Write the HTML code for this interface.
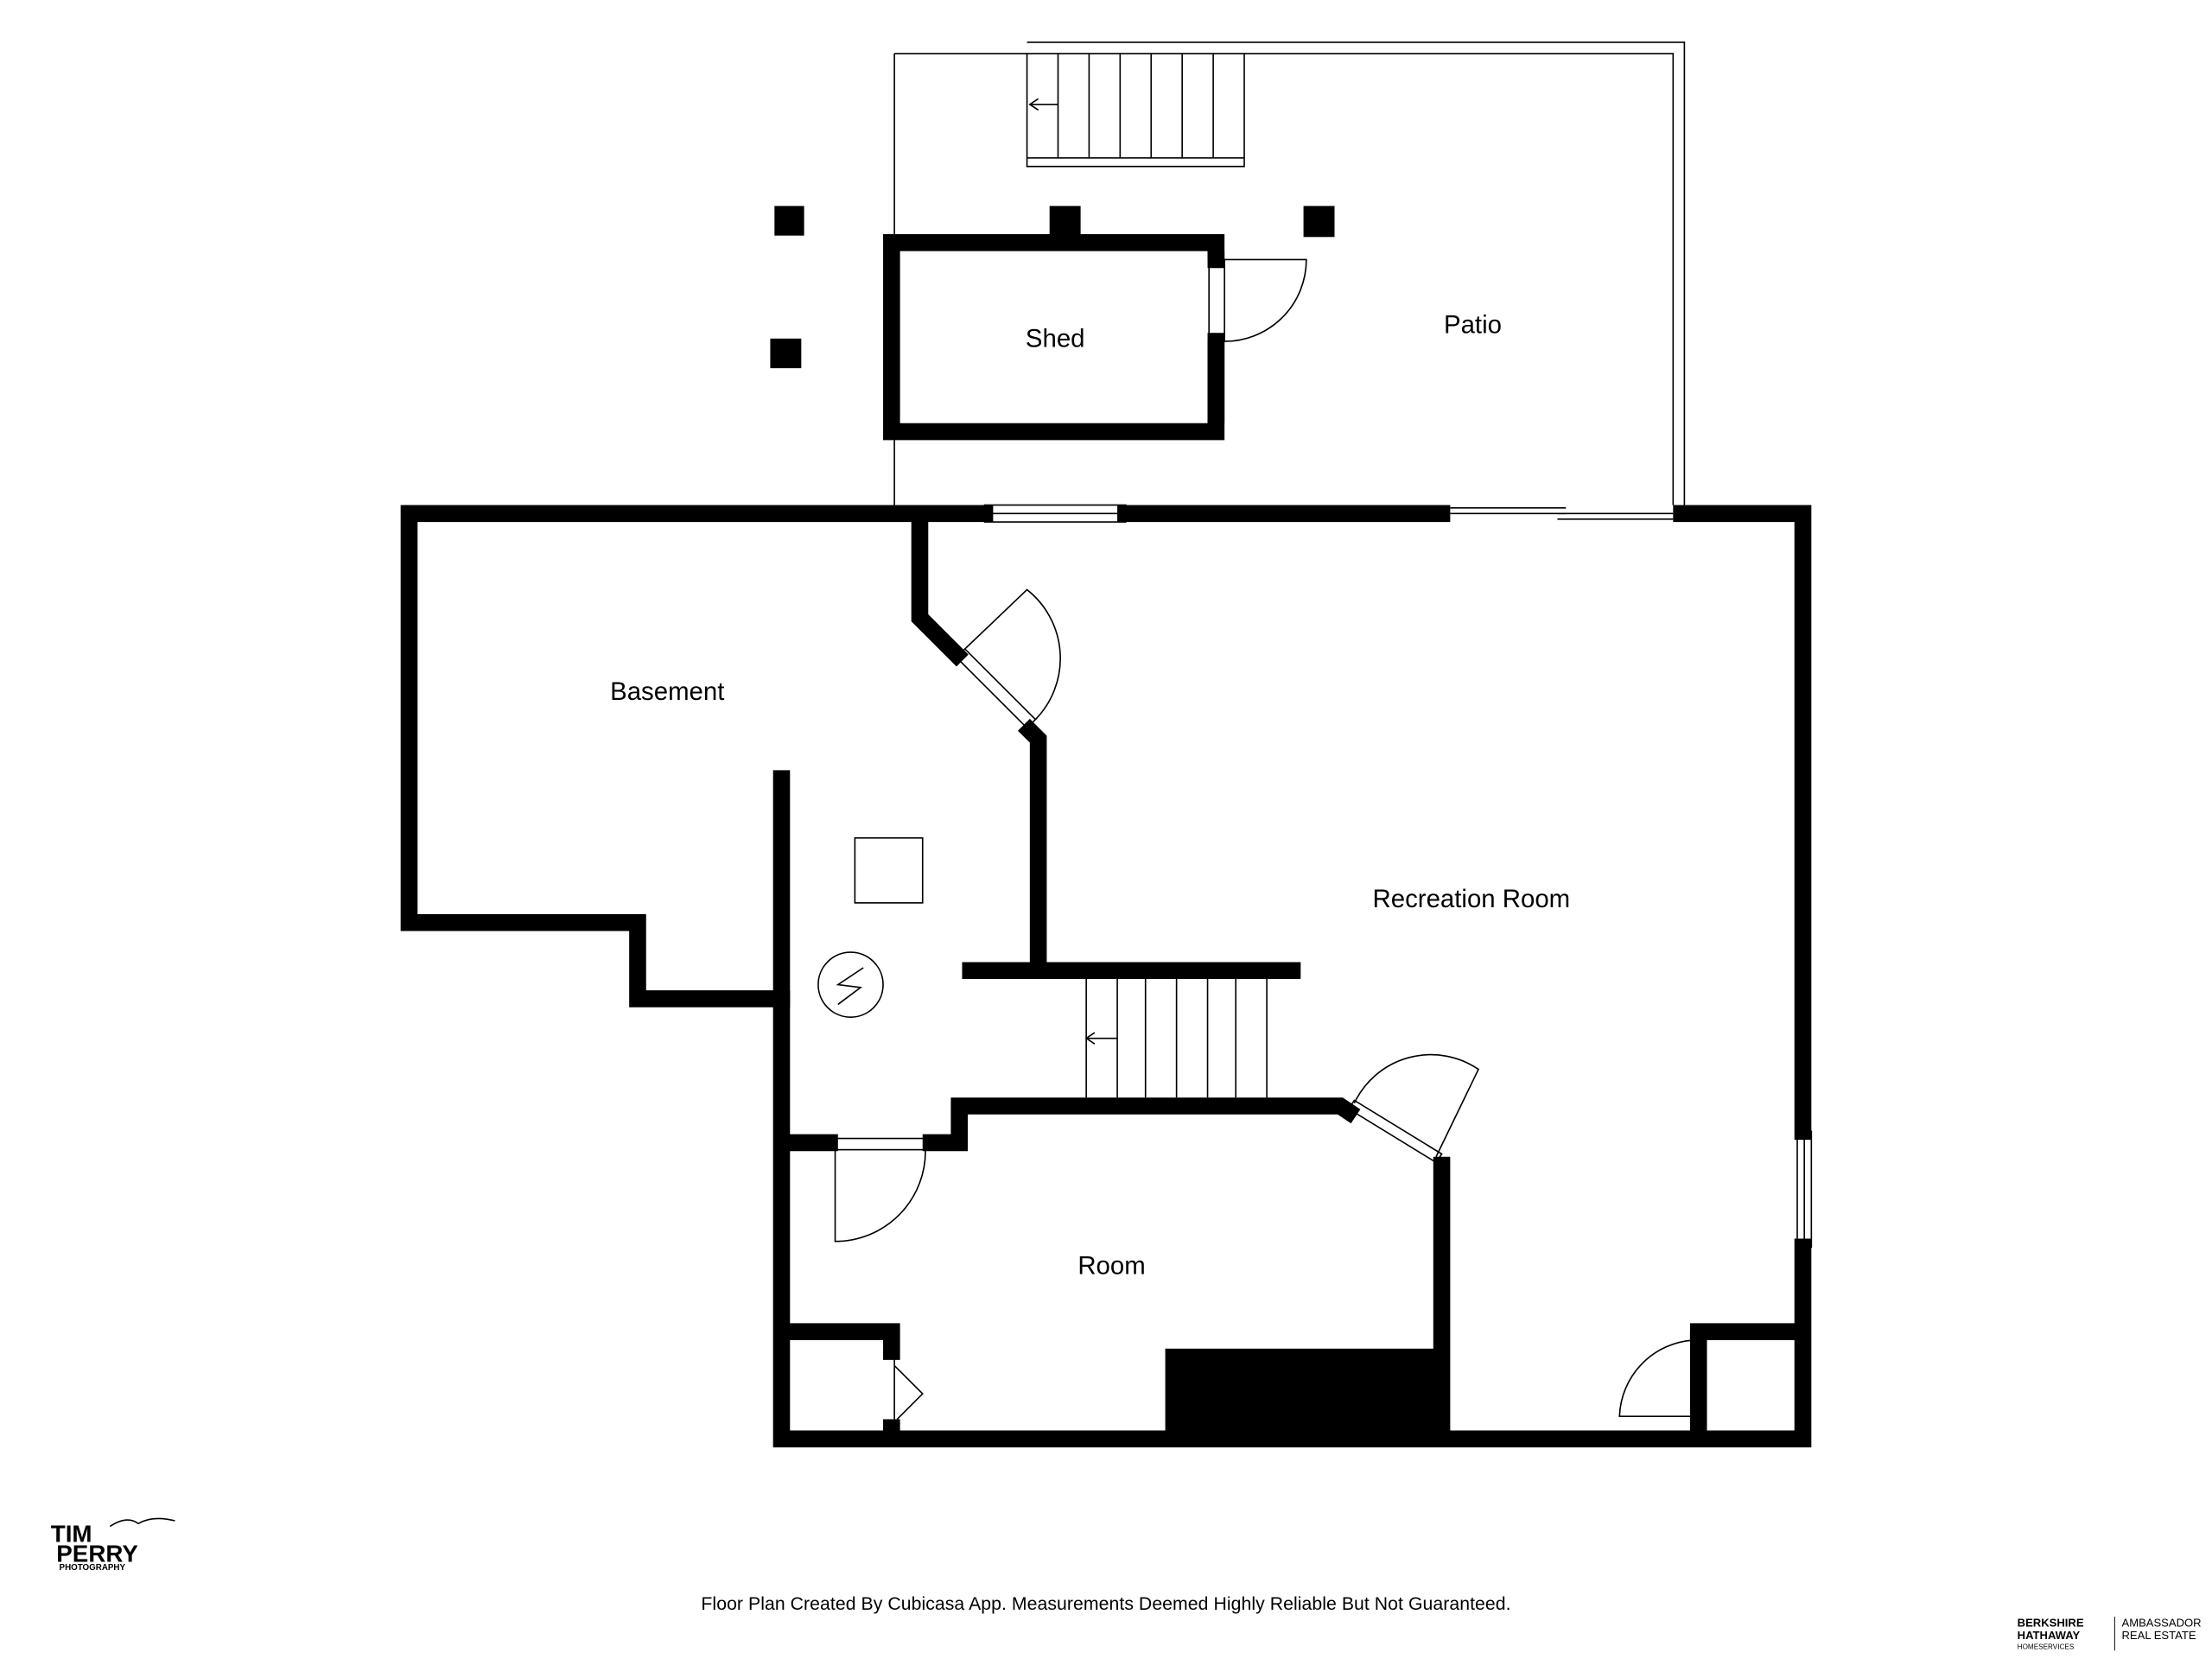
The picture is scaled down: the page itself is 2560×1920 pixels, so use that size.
<!DOCTYPE html>
<html><head><meta charset="utf-8"><style>
html,body{margin:0;padding:0;background:#fff;}
svg{display:block;}
text{font-family:"Liberation Sans","DejaVu Sans",sans-serif;}
</style></head><body>
<svg width="2560" height="1920" viewBox="0 0 1568 1176" xmlns="http://www.w3.org/2000/svg">
<rect width="1568" height="1176" fill="#fff"/>
<g fill="none" stroke="#000" stroke-width="1">
<line x1="634" y1="38" x2="634" y2="358"/>
<line x1="634" y1="38" x2="728" y2="38"/>
<polyline points="728,30 1194,30 1194,358"/>
<polyline points="882,38 1186,38 1186,358"/>
<rect x="728" y="38" width="154" height="80"/>
<line x1="728" y1="112" x2="882" y2="112"/>
<line x1="750" y1="38" x2="750" y2="112"/><line x1="772" y1="38" x2="772" y2="112"/>
<line x1="794" y1="38" x2="794" y2="112"/><line x1="816" y1="38" x2="816" y2="112"/>
<line x1="838" y1="38" x2="838" y2="112"/><line x1="860" y1="38" x2="860" y2="112"/>
<polyline points="736,70 730,74 736,78"/><line x1="730" y1="74" x2="750" y2="74"/>
<line x1="770" y1="694" x2="770" y2="778"/><line x1="792" y1="694" x2="792" y2="778"/>
<line x1="812" y1="694" x2="812" y2="778"/><line x1="834" y1="694" x2="834" y2="778"/>
<line x1="856" y1="694" x2="856" y2="778"/><line x1="876" y1="694" x2="876" y2="778"/>
<line x1="898" y1="694" x2="898" y2="778"/>
<polyline points="776,732 770,736 776,740"/><line x1="770" y1="736" x2="792" y2="736"/>
<rect x="698" y="358" width="100" height="12"/><line x1="698" y1="364" x2="798" y2="364"/>
<line x1="1028" y1="360" x2="1110" y2="360"/><line x1="1028" y1="364" x2="1110" y2="364"/>
<line x1="1104" y1="364" x2="1186" y2="364"/><line x1="1104" y1="368" x2="1186" y2="368"/>
<rect x="1274" y="802" width="10" height="82"/><line x1="1279" y1="802" x2="1279" y2="884"/>
<rect x="857" y="184" width="11" height="58"/>
<path d="M868,184 L926,184 A58,58 0 0 1 868,242"/>
<polygon points="678,466 684,460 734,510 728,516"/>
<path d="M684,460 L728,418 A62,62 0 0 1 734,510"/>
<rect x="592" y="807" width="64" height="8"/>
<path d="M592,815 L592,880 A64,64 0 0 0 656,815"/>
<polygon points="956,786 960,780 1022,818 1018,824"/>
<path d="M960,782 A60,60 0 0 1 1048,758 L1018,820"/>
<path d="M634,960 L634,1010 M634,968 L654,988 L636,1006"/>
<rect x="1200" y="950" width="8" height="58"/>
<path d="M1200,950 A56,56 0 0 0 1148,1004 L1200,1004"/>
<rect x="606" y="594" width="48" height="46"/>
<circle cx="603" cy="698" r="23"/>
<polyline points="612,686 594,698 610,700 594,712"/>
</g>
<g fill="none" stroke="#000" stroke-width="12" stroke-linejoin="miter" stroke-linecap="square">
<polyline points="862,184 862,172 632,172 632,306 862,306 862,242"/>
<polyline points="698,364 290,364 290,654 452,654 452,708 554,708"/>
<polyline points="798,364 1022,364"/>
<polyline points="1192,364 1278,364 1278,802"/>
<polyline points="1278,884 1278,1020 554,1020 554,552"/>
<polyline points="652,370 652,438 678,464"/>
<polyline points="730,518 736,524 736,684"/>
<line x1="688" y1="688" x2="916" y2="688"/>
<polyline points="560,810 588,810"/>
<polyline points="660,810 680,810 680,784 950,784 956,788"/>
<polyline points="1022,826 1022,1014"/>
<polyline points="560,944 632,944 632,958"/>
<line x1="632" y1="1012" x2="632" y2="1014"/>
<polyline points="1204,1012 1204,944 1272,944"/>
</g>
<g stroke="#000" stroke-width="12" stroke-linecap="butt">
<line x1="862" y1="178" x2="862" y2="184"/>
<line x1="862" y1="242" x2="862" y2="300"/>
</g>
<rect x="1198" y="944" width="12" height="6" fill="#000"/>
<rect x="826" y="956" width="198" height="64" fill="#000"/>
<rect x="549" y="146" width="21" height="21" fill="#000"/>
<rect x="744" y="146" width="22" height="22" fill="#000"/>
<rect x="924" y="146" width="22" height="22" fill="#000"/>
<rect x="546" y="240" width="22" height="21" fill="#000"/>
<g font-size="18" fill="#000" text-anchor="middle">
<text x="748" y="246">Shed</text>
<text x="1044" y="236">Patio</text>
<text x="473" y="496">Basement</text>
<text x="1043" y="643">Recreation Room</text>
<text x="788" y="903">Room</text>
</g>
<text x="784" y="1141" font-size="13" text-anchor="middle" textLength="574">Floor Plan Created By Cubicasa App. Measurements Deemed Highly Reliable But Not Guaranteed.</text>
<g font-weight="bold" fill="#000">
<text x="36" y="1093" font-size="17">TIM</text>
<text x="40" y="1107" font-size="17">PERRY</text>
<text x="42" y="1113" font-size="6">PHOTOGRAPHY</text>
<path d="M78,1082 q12,-8 20,-2 q10,-6 26,-2" stroke="#000" fill="none" stroke-width="1"/>
</g>
<g fill="#000">
<text x="1430" y="1153" font-size="8" font-weight="bold">BERKSHIRE</text>
<text x="1430" y="1162" font-size="8" font-weight="bold">HATHAWAY</text>
<text x="1430" y="1169" font-size="5">HOMESERVICES</text>
<line x1="1499" y1="1146" x2="1499" y2="1170" stroke="#000" stroke-width="0.6"/>
<text x="1504" y="1153" font-size="8">AMBASSADOR</text>
<text x="1504" y="1162" font-size="8">REAL ESTATE</text>
</g>
</svg>
</body></html>
